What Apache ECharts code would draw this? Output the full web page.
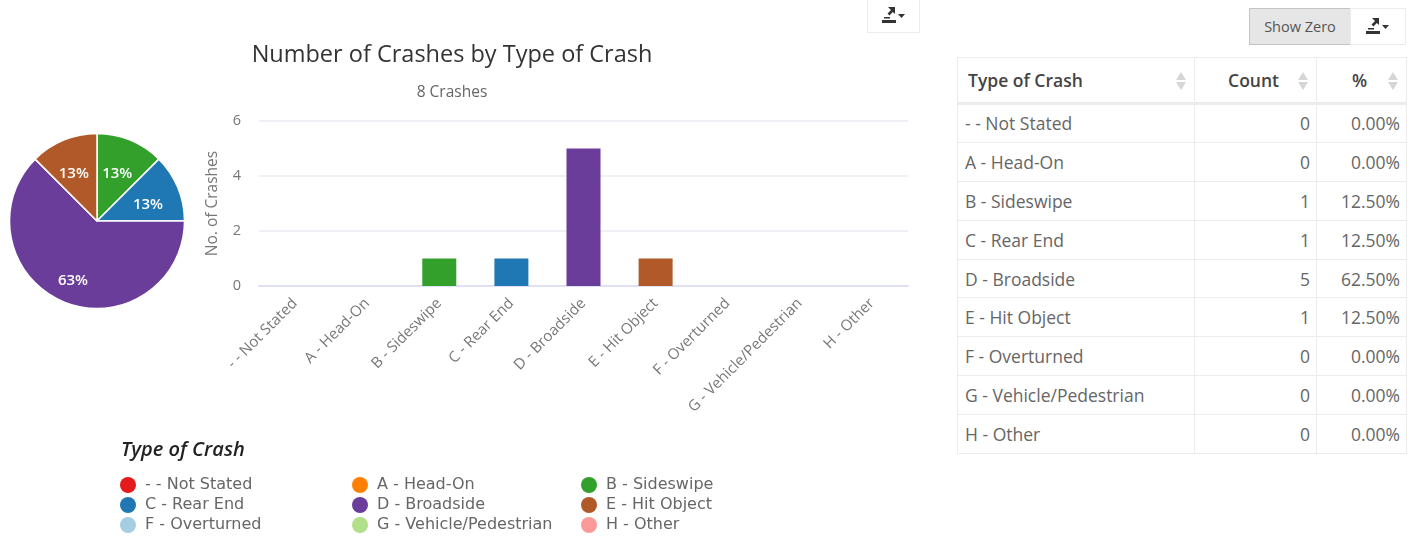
<!DOCTYPE html>
<html><head><meta charset="utf-8">
<script src="https://cdn.jsdelivr.net/npm/echarts@6/dist/echarts.min.js"></script>
<style>
html,body{margin:0;padding:0;background:#fff;width:1411px;height:537px;overflow:hidden;font-family:"Open Sans",sans-serif}
#c{position:absolute;left:0;top:0;width:1411px;height:537px}
table{position:absolute;left:957px;top:57px;width:449px;border-collapse:collapse;table-layout:fixed;font-size:17.5px;color:#666;background:#fff}
td,th{border:1.5px solid #ececec;padding:0 6px 0 7px;box-sizing:border-box;height:38.9px;white-space:nowrap}
th{height:46px;font-weight:600;color:#444;position:relative;text-align:left;border-bottom-width:3px;padding-left:10px}
td.n{text-align:right}
th.n{text-align:right;padding-right:37px}
th.p{text-align:center;padding-right:14px}
.s{position:absolute;right:8px;top:14px;width:0;height:0}
.s:before,.s:after{content:"";position:absolute;right:0;border-left:5px solid transparent;border-right:5px solid transparent}
.s:before{top:0;border-bottom:8px solid #d6d6d6}
.s:after{top:10px;border-top:8px solid #d6d6d6}
.b{position:absolute;box-sizing:border-box;border:1.5px solid #ececec;background:#fff;display:flex;align-items:center;justify-content:center;color:#555}
</style></head><body>
<div id="c"></div>
<div class="b" style="left:867px;top:-2px;width:53px;height:35px"><svg width="26" height="20" viewBox="0 0 26 20"><path d="M1 14h14v3H1zM7 1h7v7l-2.200-2-3.300 3.500-2-2L10 4z M3 11h6v1.500H3z" fill="#333"/><path d="M17 8h7l-3.500 4z" fill="#333"/></svg></div>
<div class="b" style="left:1249px;top:8px;width:102px;height:37px;background:#e6e6e6;border-color:#c4c4c4;font-size:14.500px">Show Zero</div>
<div class="b" style="left:1350px;top:8px;width:56px;height:37px"><svg width="26" height="20" viewBox="0 0 26 20"><path d="M1 14h14v3H1zM7 1h7v7l-2.200-2-3.300 3.500-2-2L10 4z M3 11h6v1.500H3z" fill="#333"/><path d="M17 8h7l-3.500 4z" fill="#333"/></svg></div>
<table id="t"></table>
<script>
const categories = ['- - Not Stated','A - Head-On','B - Sideswipe','C - Rear End','D - Broadside','E - Hit Object','F - Overturned','G - Vehicle/Pedestrian','H - Other'];
const counts = [0,0,1,1,5,1,0,0,0];
const percents = ['0.00%','0.00%','12.50%','12.50%','62.50%','12.50%','0.00%','0.00%','0.00%'];
const colors = ['#e41a1c','#ff7f00','#33a02c','#1f78b4','#6a3d9a','#b15928','#a6cee3','#b2df8a','#fb9a99'];
const tableHeaders = ['Type of Crash','Count','%'];
const yTicks = [0,2,4,6];
const total = counts.reduce((a,b)=>a+b,0);

document.getElementById('t').innerHTML =
 '<colgroup><col style="width:237px"><col style="width:122px"><col style="width:90px"></colgroup>'+
 '<tr><th>'+tableHeaders[0]+'<span class="s"></span></th><th class="n">'+tableHeaders[1]+'<span class="s"></span></th><th class="p">'+tableHeaders[2]+'<span class="s"></span></th></tr>'+
 categories.map((c,i)=>'<tr><td>'+c+'</td><td class="n">'+counts[i]+'</td><td class="n">'+percents[i]+'</td></tr>').join('');

const chart = echarts.init(document.getElementById('c'),null,{renderer:'canvas'});
const font='"Open Sans",sans-serif';
const legendCol=(k,left)=>({
  orient:'vertical',left:left,top:477,height:60,padding:0,itemGap:4,itemWidth:16,itemHeight:16,icon:'circle',selectedMode:false,
  itemStyle:{borderWidth:0},
  textStyle:{fontFamily:'"DejaVu Sans",sans-serif',fontSize:16,lineHeight:16,height:16,color:'#666',padding:[0,0,0,4]},
  data:categories.filter((c,i)=>i%3===k)
});
const midShift=(i)=>{
  let before=0;for(let j=0;j<i;j++)before+=counts[j];
  const a=(before+counts[i]/2)/total*2*Math.PI;
  const d=i===4?12:10;
  return {dx:Math.sin(a)*d-1.5,dy:-Math.cos(a)*d+5};
};
chart.setOption({
  animation:false,
  textStyle:{fontFamily:font},
  title:[
    {text:'Number of Crashes by Type of Crash',left:452,textAlign:'center',top:43,padding:0,textStyle:{fontFamily:font,fontSize:23.5,fontWeight:'normal',color:'#333'}},
    {text:'8 Crashes',left:452,textAlign:'center',top:85,padding:0,textStyle:{fontFamily:font,fontSize:15.5,fontWeight:'normal',color:'#666'}},
    {text:'Type of Crash',left:121,top:440,padding:0,textStyle:{fontFamily:font,fontSize:20,fontWeight:600,fontStyle:'italic',color:'#222'}}
  ],
  legend:[legendCol(0,120),legendCol(1,352),legendCol(2,581)],
  grid:{left:259,right:503,top:121,bottom:251},
  xAxis:{type:'category',data:categories,
    axisTick:{show:false},axisLine:{lineStyle:{color:'#dfe1f2',width:2}},
    axisLabel:{interval:0,rotate:45,fontSize:15,color:'#777',margin:15,fontFamily:font}},
  yAxis:{type:'value',min:0,max:6,interval:2,
    name:'No. of Crashes',nameLocation:'middle',nameGap:38,nameTextStyle:{fontSize:15.5,color:'#777',fontFamily:font},
    axisLabel:{fontSize:14.5,color:'#777',margin:18,fontFamily:font,formatter:v=>yTicks.includes(v)?String(v):''},
    splitLine:{lineStyle:{color:'#e9ebf3',width:1.500}}},
  series:[
    {type:'bar',barWidth:34,data:counts.map((v,i)=>({value:v,itemStyle:{color:colors[i]}})),silent:true},
    {type:'pie',center:[97,221],radius:[0,87.5],startAngle:90,stillShowZeroSum:true,silent:true,
     itemStyle:{borderColor:'#fff',borderWidth:1.500},
     data:categories.map((c,i)=>({name:c,value:counts[i],itemStyle:{color:colors[i],borderWidth:counts[i]?1.5:0},label:{show:counts[i]>0},labelLine:{show:false}})),
     label:{position:'inside',color:'#fff',fontSize:15,fontWeight:600,fontFamily:font,
       formatter:p=>Math.round(p.value/total*100)+'%'},
     labelLayout:p=>midShift(p.dataIndex)}
  ]
});
</script>
</body></html>
